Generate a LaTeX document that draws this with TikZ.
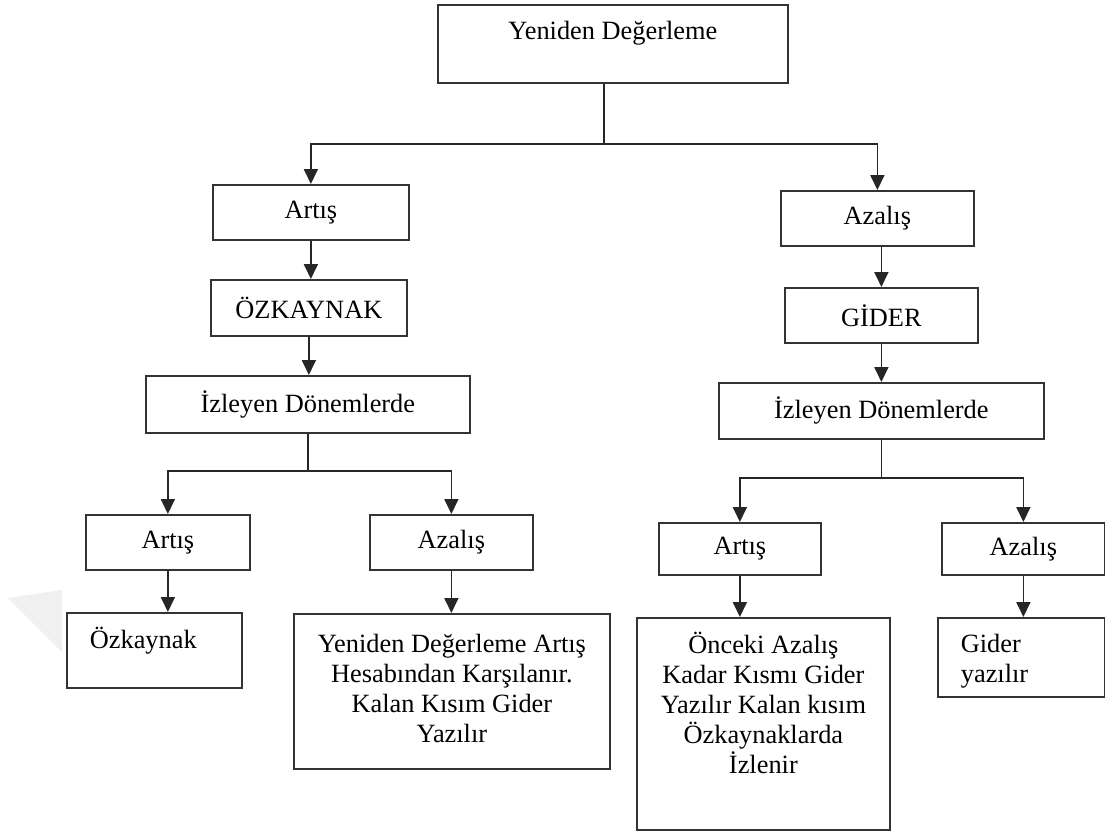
\documentclass[tikz,border=0pt]{standalone}
\usepackage{fontspec}
\setmainfont{Liberation Serif}
\usetikzlibrary{arrows.meta}
\newlength\unitpx
\setlength\unitpx{0.2mm}
\newcommand\boxfont{\fontsize{15}{17.07}\selectfont}
\tikzset{
  box/.style={draw=black!80, line width=1pt, inner sep=0pt, anchor=north west, font=\boxfont, align=center},
  topbox/.style 2 args={box, text height=#1\unitpx, text depth=#2\unitpx},
  leftbox/.style n args={3}{box, align=left, inner xsep=23\unitpx, text width=#1\unitpx, text height=#2\unitpx, text depth=#3\unitpx},
  conn/.style={draw=black!85, line width=1pt},
  arr/.style={conn, -{Triangle[length=3mm, width=2.8mm]}}
}
\begin{document}
\begin{tikzpicture}[x=0.2mm, y=-0.2mm]
  \useasboundingbox (0,0) rectangle (1105,832);
  \fill[black!6] (8,598) -- (62,590) -- (62,652) -- cycle;
  \node (ydeg) [topbox={35}{43}, minimum width=350\unitpx] at (437,4) {Yeniden Değerleme};
  \node (artis1) [box, minimum width=196\unitpx, minimum height=55\unitpx] at (212,184) {Artış};
  \node (ozk) [box, minimum width=196\unitpx, minimum height=56\unitpx] at (210,279) {ÖZKAYNAK};
  \node (izl1) [box, minimum width=324\unitpx, minimum height=57\unitpx] at (145,375) {İzleyen Dönemlerde};
  \node (artis2) [box, minimum width=164\unitpx, minimum height=55\unitpx] at (85,514) {Artış};
  \node (azalis2) [box, minimum width=163\unitpx, minimum height=55\unitpx] at (369,514) {Azalış};
  \node (ozkb) [leftbox={129}{36}{39}] at (66,612) {Özkaynak};
  \node (yenib) [topbox={129}{26}, minimum width=316\unitpx] at (293,613) {Yeniden Değerleme Artış\\Hesabından Karşılanır.\\Kalan Kısım Gider\\Yazılır};
  \node (azalis1) [box, minimum width=193\unitpx, minimum height=55\unitpx] at (780,190) {Azalış};
  \node (gider) [box, minimum width=193\unitpx, minimum height=55\unitpx] at (784,287) {GİDER};
  \node (izl2) [box, minimum width=325\unitpx, minimum height=56\unitpx] at (718,382) {İzleyen Dönemlerde};
  \node (artis3) [box, minimum width=162\unitpx, minimum height=52\unitpx] at (658,522) {Artış};
  \node (azalis3) [box, minimum width=163\unitpx, minimum height=52\unitpx] at (941,522) {Azalış};
  \node (onceki) [topbox={156}{56}, minimum width=253\unitpx] at (636,617) {Önceki Azalış\\Kadar Kısmı Gider\\Yazılır Kalan kısım\\Özkaynaklarda\\İzlenir};
  \node (giderb) [leftbox={121}{35}{44}] at (937,617) {Gider\\yazılır};
  \coordinate (j1) at (604,144);
  \coordinate (j2) at (307,471);
  \coordinate (j3) at (880,478);
  \draw[conn] (ydeg.south -| j1) -- (j1);
  \draw[arr] (j1) -| (artis1.north);
  \draw[arr] (j1) -| (azalis1.north);
  \draw[arr] (artis1.south) -- (artis1.south |- ozk.north);
  \draw[arr] (ozk.south) -- (ozk.south |- izl1.north);
  \draw[conn] (izl1.south) -- (izl1.south |- j2);
  \draw[arr] (j2) -| (artis2.north);
  \draw[arr] (j2) -| (azalis2.north);
  \draw[arr] (artis2.south) -- (artis2.south |- ozkb.north);
  \draw[arr] (azalis2.south) -- (azalis2.south |- yenib.north);
  \draw[arr] (gider.north |- azalis1.south) -- (gider.north);
  \draw[arr] (gider.south) -- (gider.south |- izl2.north);
  \draw[conn] (izl2.south) -- (izl2.south |- j3);
  \draw[arr] (j3) -| (artis3.north);
  \draw[arr] (j3) -| (azalis3.north);
  \draw[arr] (artis3.south) -- (artis3.south |- onceki.north);
  \draw[arr] (azalis3.south) -- (azalis3.south |- giderb.north);
\end{tikzpicture}
\end{document}
